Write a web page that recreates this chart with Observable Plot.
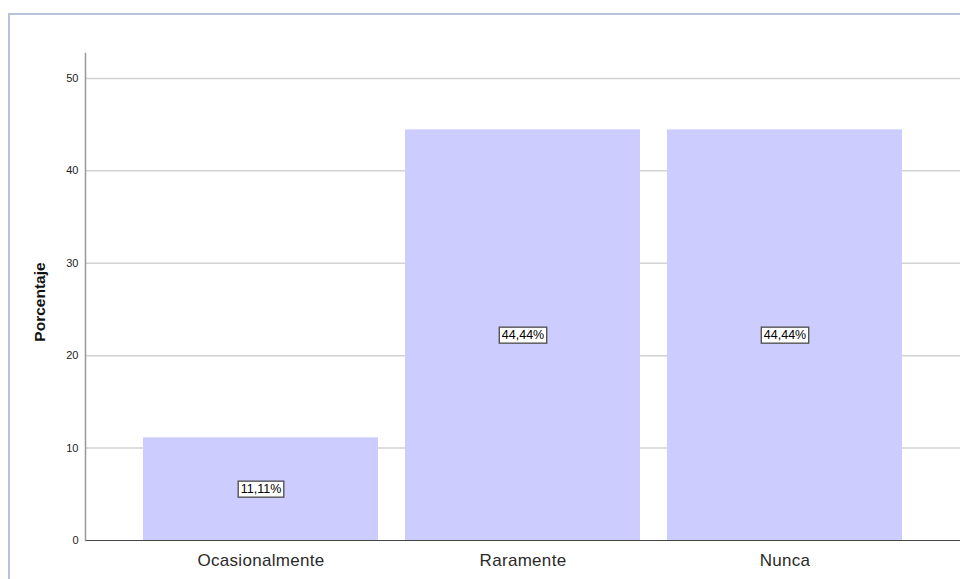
<!DOCTYPE html>
<html>
<head>
<meta charset="utf-8">
<script src="https://cdn.jsdelivr.net/npm/d3@7"></script>
<script src="https://cdn.jsdelivr.net/npm/@observablehq/plot@0.6"></script>
<style>
  html, body { margin: 0; padding: 0; background: #fff; overflow: hidden; }
  #wrap { position: relative; width: 960px; height: 579px; }
  #frame { position: absolute; left: 8px; top: 13px; width: 1000px; height: 700px;
           border-left: 2px solid #b8c2da; border-top: 2px solid #b8c2da; pointer-events: none; }
  svg { font-family: "Liberation Sans", Arial, sans-serif; }
  g[aria-label="x-axis tick label"] text { letter-spacing: 0.3px; }
</style>
</head>
<body>
<div id="wrap"><div id="frame"></div></div>
<script>
const categories = ["Ocasionalmente", "Raramente", "Nunca"];
const percentages = [11.11, 44.44, 44.44];
const valueLabels = ["11,11%", "44,44%", "44,44%"];
const yTicks = [0, 10, 20, 30, 40, 50];
const yLabel = "Porcentaje";

const data = categories.map((c, i) => ({cat: c, pct: percentages[i], lbl: valueLabels[i]}));

const chart = Plot.plot({
  width: 960,
  height: 579,
  marginLeft: 85,
  marginRight: 0,
  marginTop: 53,
  marginBottom: 39,
  style: {fontFamily: "'Liberation Sans', Arial, sans-serif", background: "transparent"},
  x: {domain: categories, paddingInner: 0.103, paddingOuter: 0.217},
  y: {domain: [0, 52.7]},
  marks: [
    Plot.ruleY(yTicks.filter(d => d > 0), {stroke: "#d2d2d2", strokeWidth: 1.5}),
    Plot.barY(data, {x: "cat", y: "pct", fill: "#ccccff"}),
    Plot.ruleY([0], {stroke: "#444", strokeWidth: 1.2}),
    Plot.frame({anchor: "left", stroke: "#999", strokeWidth: 1.5}),
    Plot.axisY({ticks: yTicks, tickSize: 0, tickPadding: 7, fontSize: 11, label: null, tickFormat: d => String(d), fill: "#222"}),
    Plot.axisX({tickSize: 0, tickPadding: 13, fontSize: 17, label: null, fill: "#2a2a2a"}),
    Plot.text([yLabel], {frameAnchor: "left", dx: -45, dy: 5, rotate: -90, textAnchor: "middle", fontWeight: "bold", fontSize: 15.5, fill: "#111"}),
    Plot.text(data, {x: "cat", y: d => d.pct / 2, text: "lbl", fontSize: 12.5, fill: "#000", className: "vlabel"})
  ]
});
document.getElementById("wrap").prepend(chart);

// draw boxes behind value labels
const texts = chart.querySelectorAll("g.vlabel text");
texts.forEach(t => {
  const b = t.getBBox();
  const r = document.createElementNS("http://www.w3.org/2000/svg", "rect");
  r.setAttribute("x", b.x - 2.5);
  r.setAttribute("y", b.y - 1);
  r.setAttribute("width", b.width + 5);
  r.setAttribute("height", b.height + 2);
  r.setAttribute("fill", "#fff");
  r.setAttribute("stroke", "#555");
  r.setAttribute("stroke-width", 1.4);
  const tr = t.getAttribute("transform");
  if (tr) r.setAttribute("transform", tr);
  t.parentNode.insertBefore(r, t);
});
</script>
</body>
</html>
